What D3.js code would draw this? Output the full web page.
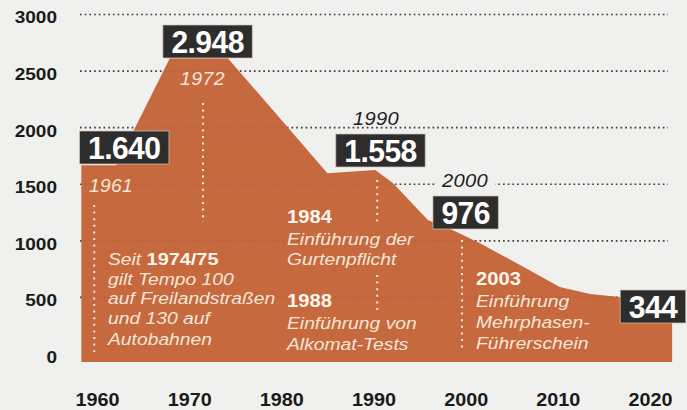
<!DOCTYPE html>
<html><head><meta charset="utf-8">
<script src="https://cdn.jsdelivr.net/npm/d3@7"></script>
<style>
html,body{margin:0;padding:0;background:#f0f0ee;}
svg{display:block;}
</style></head>
<body>
<script>
// ---- data ----
const xTickYears = [1960, 1970, 1980, 1990, 2000, 2010, 2020];
const yTickValues = [0, 500, 1000, 1500, 2000, 2500, 3000];
const gridValues = [500, 1000, 1500, 2000, 2500, 3000];
// outline of the filled area (year, deaths)
const areaYears  = [1958.3, 1962.1, 1967.9, 1974.2, 1985.0, 1990.2, 1992.1, 1995.9, 1998.8, 2001.5, 2005.9, 2010.2, 2013.5, 2016.7, 2022.4];
const areaValues = [1669, 1669, 2614, 2614, 1598, 1625, 1510, 1183, 1086, 980, 786, 592, 530, 503, 486];
const areaBaseValue = -71;
// highlighted values
const labelYears  = [1961, 1972, 1990, 2000, 2020];
const labelValues = [1640, 2948, 1558, 976, 344];
// annotations
const noteA = [["Seit ", "1974/75"], ["gilt Tempo 100"], ["auf Freilandstraßen"], ["und 130 auf"], ["Autobahnen"]];
const note1984 = ["1984", "Einführung der", "Gurtenpflicht"];
const note1988 = ["1988", "Einführung von", "Alkomat-Tests"];
const note2003 = ["2003", "Einführung", "Mehrphasen-", "Führerschein"];

// ---- layout ----
const W = 687, H = 410;
const BG = "#f0f0ee", ORANGE = "#c6693f", DARK = "#2d2d2d", CREAM = "#f5e6d8";
const FONT = "'Liberation Sans', Arial, Helvetica, sans-serif";

const svg = d3.select("body").append("svg").attr("width", W).attr("height", H);
svg.append("rect").attr("width", W).attr("height", H).attr("fill", BG);

const x = d3.scaleLinear().domain([1960, 2020]).range([97, 650]);
const y = d3.scaleLinear().domain([0, 3000]).range([354, 14.5]);

const fmt = d3.formatLocale({decimal: ",", thousands: ".", grouping: [3], currency: ["", "€"]}).format(",");

function sText(parent, px, py, sx, txt, opts) {
  const g = parent.append("g").attr("transform", `translate(${px},${py}) scale(${sx},1)`);
  const t = g.append("text").text(txt)
    .attr("font-family", FONT)
    .attr("font-size", opts.size)
    .attr("font-weight", opts.weight || "normal")
    .attr("font-style", opts.style || "normal")
    .attr("fill", opts.fill)
    .attr("text-anchor", opts.anchor || "start")
    .attr("letter-spacing", opts.ls || 0);
  return t;
}

// gridlines (behind)
function grid(opacity) {
  svg.append("g").selectAll("line").data(gridValues).join("line")
    .attr("x1", 80).attr("x2", 668)
    .attr("y1", d => y(d)).attr("y2", d => y(d))
    .attr("stroke", "#2a2a2a").attr("stroke-width", 1.7)
    .attr("stroke-dasharray", "1.7 3")
    .attr("opacity", opacity);
}
grid(0.85);

// area
const pts = areaYears.map((yr, i) => [yr, areaValues[i]]);
const area = d3.area().x(d => x(d[0])).y0(y(areaBaseValue)).y1(d => y(d[1]));
svg.append("path").datum(pts).attr("d", area).attr("fill", ORANGE);
grid(0.10);

// axes
const xAxis = svg.append("g").attr("transform", "translate(0,393)")
  .call(d3.axisBottom(x).tickValues(xTickYears).tickFormat(d3.format("d")).tickSize(0).tickPadding(0));
xAxis.select(".domain").remove();
xAxis.selectAll("text").attr("font-family", FONT).attr("font-size", 18).attr("font-weight", "bold")
  .attr("fill", "#1a1a1a").attr("transform", "scale(1.1,1)");

const yAxis = svg.append("g").attr("transform", "translate(57,3)")
  .call(d3.axisLeft(y).tickValues(yTickValues).tickFormat(d3.format("d")).tickSize(0).tickPadding(0));
yAxis.select(".domain").remove();
yAxis.selectAll("text").attr("font-family", FONT).attr("font-size", 17).attr("font-weight", "bold")
  .attr("fill", "#1a1a1a").attr("transform", "scale(1.12,1)");

// dotted vertical guides (years where they stand)
const guideYears = [1959.7, 1971.5, 1990.4, 1999.6];
const guideSpans = [[205, 352], [103, 222], [180, 222], [240, 352]];
guideYears.forEach((yr, i) => {
  svg.append("line").attr("x1", x(yr)).attr("x2", x(yr))
    .attr("y1", guideSpans[i][0]).attr("y2", guideSpans[i][1])
    .attr("stroke", CREAM).attr("stroke-width", 2).attr("stroke-dasharray", "2 4.6");
});
svg.append("line").attr("x1", x(1990.4)).attr("x2", x(1990.4))
  .attr("y1", 275).attr("y2", 310)
  .attr("stroke", CREAM).attr("stroke-width", 2).attr("stroke-dasharray", "2 4.6");

// year labels (italic)
const yl = {size: 17.5, style: "italic", ls: 0.3};
sText(svg, 89, 192, 1.1, "1961", Object.assign({fill: CREAM}, yl));
sText(svg, 180, 85, 1.12, "1972", Object.assign({fill: CREAM}, yl));
sText(svg, 353, 125, 1.15, "1990", Object.assign({fill: "#1e1e1e"}, yl));
svg.append("rect").attr("x", 437).attr("y", 170).attr("width", 58).attr("height", 20).attr("fill", BG);
sText(svg, 442, 187, 1.15, "2000", Object.assign({fill: "#1e1e1e"}, yl));

// value boxes
const boxDx = [18, 0, 7, 0, 3];
const boxTop = [131, 25, 134, 196, 290];
labelYears.forEach((yr, i) => {
  const cx = x(yr) + boxDx[i];
  const g = svg.append("g");
  const r = g.append("rect");
  const t = sText(g, cx, boxTop[i] + 28, 0.94, fmt(labelValues[i]),
    {size: 32, weight: "bold", fill: "#ffffff", anchor: "middle", ls: -0.6});
  const w = t.node().getComputedTextLength() * 0.94 + 17;
  r.attr("x", cx - w / 2).attr("y", boxTop[i]).attr("width", w).attr("height", 33)
    .attr("fill", DARK).attr("stroke", "#d8c8b8").attr("stroke-width", 1).attr("stroke-opacity", 0.7);
});

// annotation blocks
const it = {size: 16.5, style: "italic", fill: CREAM};
const bd = {size: 18, weight: "bold", fill: "#fff6ec"};
function block(px, baselines, lines, firstBold) {
  lines.forEach((ln, i) => {
    if (i === 0 && firstBold) sText(svg, px, baselines[i], 1.12, ln, bd);
    else sText(svg, px, baselines[i], 1.17, ln, it);
  });
}
// block A with mixed first line
{
  const g = svg.append("g").attr("transform", "translate(108,265) scale(1.17,1)");
  const t = g.append("text").attr("font-family", FONT).attr("font-size", 16.5).attr("fill", CREAM);
  t.append("tspan").attr("font-style", "italic").text(noteA[0][0]);
  t.append("tspan").attr("font-weight", "bold").attr("font-size", 17).attr("fill", "#fff6ec").text(noteA[0][1]);
  const bl = [265, 285, 304, 324, 345];
  noteA.slice(1).forEach((ln, i) => sText(svg, 108, bl[i + 1], 1.17, ln[0], it));
}
block(287, [223, 245, 265], note1984, true);
block(287, [307, 329, 350], note1988, true);
block(476, [285, 307, 328, 349], note2003, true);
</script>
</body></html>
